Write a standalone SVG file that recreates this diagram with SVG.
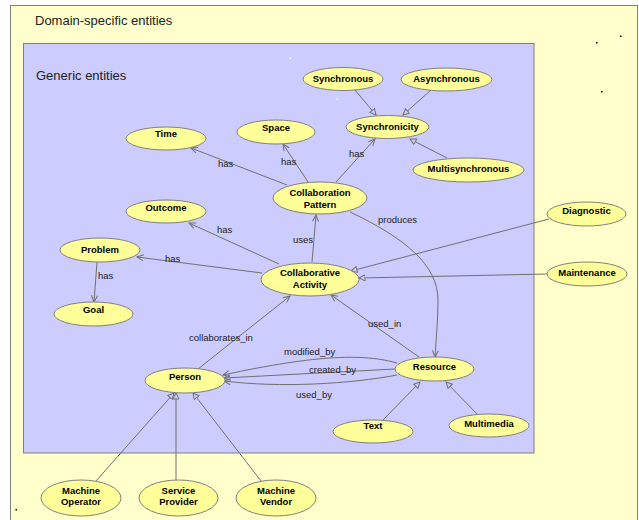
<svg xmlns="http://www.w3.org/2000/svg" width="639" height="520" viewBox="0 0 639 520">
<style>
.node ellipse{fill:#FFFF99;stroke:#808080;stroke-width:1}
.node text{font-family:"Liberation Sans",Arial,sans-serif;font-size:9.5px;font-weight:bold;fill:#000;text-anchor:middle}
.edge{fill:none;stroke:#707070;stroke-width:1}
.assoc{marker-end:url(#open)}
.gen{marker-end:url(#tri)}
.lbl{font-family:"Liberation Sans",Arial,sans-serif;font-size:9.5px;fill:#222}
.title{font-family:"Liberation Sans",Arial,sans-serif;font-size:13px;fill:#222}
</style>
<defs>
<marker id="open" markerUnits="userSpaceOnUse" markerWidth="10" markerHeight="10" refX="7" refY="3.5" orient="auto">
<path d="M0.5,0.5 L7,3.5 L0.5,6.5" fill="none" stroke="#707070" stroke-width="1"/>
</marker>
<marker id="tri" markerUnits="userSpaceOnUse" markerWidth="10" markerHeight="10" refX="6.5" refY="3.5" orient="auto">
<path d="M0.5,0.5 L6.5,3.5 L0.5,6.5 Z" fill="#CCCCFF" stroke="#707070" stroke-width="1"/>
</marker>
</defs>
<g id="containers">
<rect x="10.5" y="5.5" width="627" height="520" fill="#FFFFCC" stroke="#808080" stroke-width="1"/>
<text class="title" x="35" y="25">Domain-specific entities</text>
<rect x="23.5" y="43.5" width="510.5" height="409.5" fill="#CCCCFF" stroke="#808080" stroke-width="1"/>
<text class="title" x="36" y="80">Generic entities</text>
<rect x="596" y="42" width="1.5" height="1.5" fill="#000"/>
<rect x="620" y="35.5" width="1.5" height="1.5" fill="#000"/>
<rect x="601" y="91" width="1.5" height="1.5" fill="#000"/>
<rect x="15.5" y="509" width="1.5" height="1.5" fill="#000"/>
<rect x="289.5" y="57.5" width="1.5" height="1.5" fill="#fff"/>
<rect x="336.5" y="98.5" width="1.5" height="1.5" fill="#fff"/>
</g>
<g id="connectors">
<path class="edge gen" d="M355,90 L376,115"/>
<path class="edge gen" d="M431,90 L403,115"/>
<path class="edge gen" d="M447,158 L410,139"/>
<path class="edge assoc" d="M336,182 L375,139"/>
<path class="edge assoc" d="M308,182 L283,144"/>
<path class="edge assoc" d="M287,185 L191,148"/>
<path class="edge assoc" d="M312,262 L316,215"/>
<path class="edge assoc" d="M279,264 L189,223"/>
<path class="edge assoc" d="M262,273 L137,257"/>
<path class="edge assoc" d="M97,262 L94,302"/>
<path class="edge assoc" d="M350,212 C405,238 438,265 438,300 C438,320 436,340 435,357"/>
<path class="edge gen" d="M549,219 L351,271"/>
<path class="edge gen" d="M547,274 L359,278"/>
<path class="edge assoc" d="M198,369 L290,296"/>
<path class="edge assoc" d="M419,357 L331,295"/>
<path class="edge assoc" d="M397,363 C365,354 320,354 223,375"/>
<path class="edge assoc" d="M395,369 L224,378"/>
<path class="edge assoc" d="M397,375 C350,384 280,388 224,381"/>
<path class="edge gen" d="M383,420 L420,382"/>
<path class="edge gen" d="M477,414 L446,382"/>
<path class="edge gen" d="M96,481 L174,393"/>
<path class="edge gen" d="M176,480 L176,393"/>
<path class="edge gen" d="M261,481 L193,393"/>
<text class="lbl" x="349" y="157">has</text>
<text class="lbl" x="281" y="165">has</text>
<text class="lbl" x="218" y="167">has</text>
<text class="lbl" x="293" y="243">uses</text>
<text class="lbl" x="217" y="233">has</text>
<text class="lbl" x="165" y="262">has</text>
<text class="lbl" x="98" y="279">has</text>
<text class="lbl" x="378" y="223">produces</text>
<text class="lbl" x="189" y="341">collaborates_in</text>
<text class="lbl" x="368" y="327">used_in</text>
<text class="lbl" x="284" y="355">modified_by</text>
<text class="lbl" x="309" y="373">created_by</text>
<text class="lbl" x="296" y="398">used_by</text>
</g>
<g id="Synchronous" class="node"><ellipse cx="343" cy="79" rx="40" ry="11.5"/><text x="343" y="81.5">Synchronous</text></g>
<g id="Asynchronous" class="node"><ellipse cx="446.5" cy="79.5" rx="45.5" ry="11.5"/><text x="446.5" y="81.5">Asynchronous</text></g>
<g id="Synchronicity" class="node"><ellipse cx="387.5" cy="127" rx="41.5" ry="11.5"/><text x="387.5" y="129.5">Synchronicity</text></g>
<g id="Multisynchronous" class="node"><ellipse cx="468.5" cy="170" rx="55.5" ry="12"/><text x="468.5" y="172">Multisynchronous</text></g>
<g id="Time" class="node"><ellipse cx="166" cy="138.5" rx="40" ry="11.5"/><text x="166" y="136.5">Time</text></g>
<g id="Space" class="node"><ellipse cx="276" cy="132" rx="39" ry="12"/><text x="276" y="130.5">Space</text></g>
<g id="CollaborationPattern" class="node"><ellipse cx="320" cy="198" rx="47" ry="16"/><text x="320" y="196">Collaboration</text><text x="320" y="208">Pattern</text></g>
<g id="Outcome" class="node"><ellipse cx="166" cy="211.5" rx="40" ry="11.5"/><text x="166" y="210.5">Outcome</text></g>
<g id="Problem" class="node"><ellipse cx="100" cy="250" rx="40" ry="12"/><text x="100" y="252.5">Problem</text></g>
<g id="Goal" class="node"><ellipse cx="93.5" cy="314" rx="39.5" ry="12"/><text x="93.5" y="312.5">Goal</text></g>
<g id="CollaborativeActivity" class="node"><ellipse cx="310" cy="279.5" rx="49" ry="16.5"/><text x="310" y="276">Collaborative</text><text x="310" y="288">Activity</text></g>
<g id="Diagnostic" class="node"><ellipse cx="586.5" cy="214" rx="39.5" ry="12"/><text x="586.5" y="213.5">Diagnostic</text></g>
<g id="Maintenance" class="node"><ellipse cx="587" cy="274" rx="40" ry="12"/><text x="587" y="276">Maintenance</text></g>
<g id="Resource" class="node"><ellipse cx="434.5" cy="369" rx="39.5" ry="12"/><text x="434.5" y="370">Resource</text></g>
<g id="Text" class="node"><ellipse cx="373" cy="431.5" rx="40" ry="11.5"/><text x="373" y="429">Text</text></g>
<g id="Multimedia" class="node"><ellipse cx="489" cy="425.5" rx="40" ry="11.5"/><text x="489" y="426.5">Multimedia</text></g>
<g id="Person" class="node"><ellipse cx="185" cy="380.5" rx="40" ry="12.5"/><text x="185" y="380">Person</text></g>
<g id="MachineOperator" class="node"><ellipse cx="81" cy="498" rx="40" ry="18"/><text x="81" y="493.5">Machine</text><text x="81" y="505">Operator</text></g>
<g id="ServiceProvider" class="node"><ellipse cx="178.5" cy="498" rx="39.5" ry="18"/><text x="178.5" y="493.5">Service</text><text x="178.5" y="505">Provider</text></g>
<g id="MachineVendor" class="node"><ellipse cx="276" cy="498" rx="40" ry="18"/><text x="276" y="493.5">Machine</text><text x="276" y="505">Vendor</text></g>
</svg>
